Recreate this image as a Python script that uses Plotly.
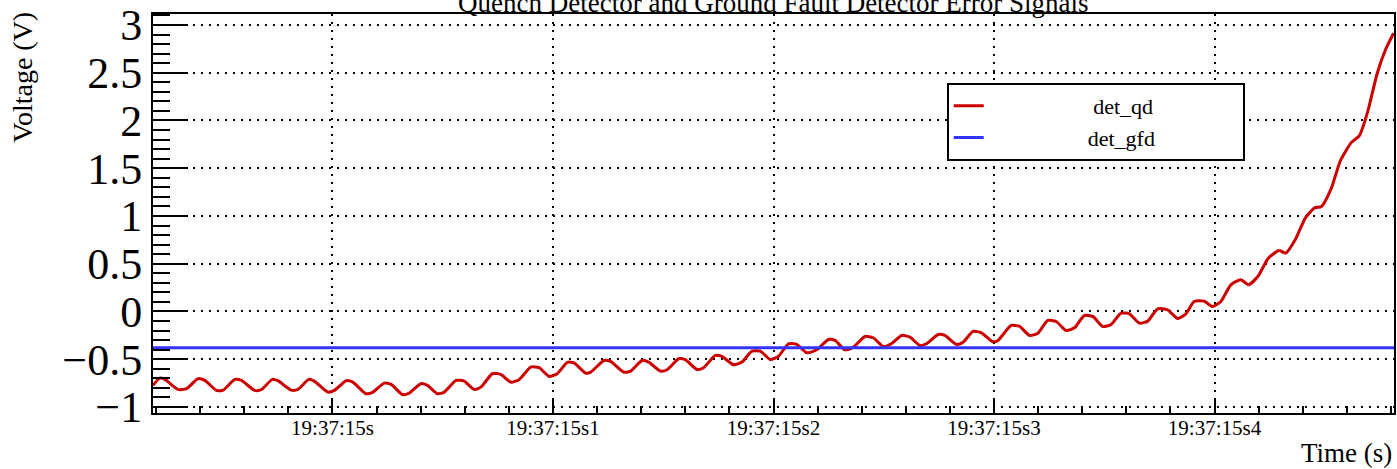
import plotly.graph_objects as go

# ---- data ----
qd_time = [
    -0.0814, -0.0783, -0.0760, -0.0701, -0.0662, -0.0610, -0.0579, -0.0526, -0.0496, -0.0443,
    -0.0413, -0.0353, -0.0323, -0.0273, -0.0248, -0.0187, -0.0157, -0.0107, -0.0081, -0.0021,
    0.0009, 0.0062, 0.0092, 0.0152, 0.0182, 0.0235, 0.0266, 0.0318, 0.0348, 0.0401,
    0.0431, 0.0476, 0.0507, 0.0560, 0.0597, 0.0643, 0.0673, 0.0725, 0.0763, 0.0809,
    0.0846, 0.0899, 0.0937, 0.0982, 0.1019, 0.1065, 0.1095, 0.1148, 0.1171, 0.1231,
    0.1261, 0.1321, 0.1352, 0.1404, 0.1434, 0.1487, 0.1517, 0.1570, 0.1600, 0.1653,
    0.1683, 0.1736, 0.1766, 0.1819, 0.1857, 0.1902, 0.1940, 0.1985, 0.2023, 0.2068,
    0.2105, 0.2151, 0.2196, 0.2249, 0.2279, 0.2324, 0.2362, 0.2415, 0.2452, 0.2498,
    0.2535, 0.2581, 0.2619, 0.2664, 0.2694, 0.2747, 0.2777, 0.2829, 0.2860, 0.2905,
    0.2943, 0.2995, 0.3018, 0.3078, 0.3116, 0.3161, 0.3199, 0.3244, 0.3282, 0.3327,
    0.3365, 0.3410, 0.3448, 0.3493, 0.3531, 0.3576, 0.3614, 0.3659, 0.3697, 0.3742,
    0.3787, 0.3833, 0.3870, 0.3908, 0.3953, 0.3991, 0.4029, 0.4074, 0.4119, 0.4155,
    0.4198, 0.4243, 0.4293, 0.4323, 0.4368, 0.4413, 0.4455, 0.4485, 0.4530, 0.4571,
    0.4621, 0.4657, 0.4696, 0.4738, 0.4775, 0.4812,
]
qd_volt = [
    -0.774, -0.698, -0.711, -0.816, -0.809, -0.704, -0.722, -0.826, -0.823, -0.711,
    -0.722, -0.826, -0.819, -0.711, -0.725, -0.823, -0.816, -0.711, -0.732, -0.844,
    -0.826, -0.725, -0.740, -0.861, -0.847, -0.750, -0.764, -0.871, -0.855, -0.756,
    -0.774, -0.861, -0.844, -0.722, -0.729, -0.816, -0.792, -0.652, -0.659, -0.740,
    -0.714, -0.583, -0.589, -0.680, -0.652, -0.533, -0.537, -0.645, -0.635, -0.513,
    -0.523, -0.635, -0.624, -0.513, -0.530, -0.624, -0.610, -0.495, -0.505, -0.607,
    -0.589, -0.460, -0.471, -0.558, -0.530, -0.415, -0.415, -0.502, -0.468, -0.338,
    -0.345, -0.432, -0.401, -0.293, -0.303, -0.401, -0.373, -0.262, -0.275, -0.366,
    -0.338, -0.251, -0.269, -0.356, -0.338, -0.241, -0.251, -0.345, -0.321, -0.209,
    -0.223, -0.317, -0.303, -0.146, -0.157, -0.251, -0.227, -0.094, -0.105, -0.199,
    -0.171, -0.042, -0.052, -0.157, -0.136, -0.018, -0.024, -0.122, -0.101, 0.028,
    0.018, -0.073, -0.024, 0.105, 0.108, 0.052, 0.105, 0.279, 0.332, 0.280,
    0.371, 0.556, 0.638, 0.612, 0.760, 0.983, 1.086, 1.100, 1.292, 1.579,
    1.771, 1.841, 2.103, 2.495, 2.738, 2.913,
]
gfd_time = [-0.0814, 0.4814]
gfd_volt = [-0.38, -0.38]

x_tickvals = [0.0, 0.1, 0.2, 0.3, 0.4]
x_ticktext = ["19:37:15s", "19:37:15s1", "19:37:15s2", "19:37:15s3", "19:37:15s4"]
x_range = [-0.0814, 0.4814]
y_range = [-1.063, 3.115]

title_text = "Quench Detector and Ground Fault Detector Error Signals"
x_title = "Time (s)"
y_title = "Voltage (V)"

FONT = "Liberation Serif, Times New Roman, serif"
NB = "\u00a0"

fig = go.Figure()
fig.add_trace(go.Scatter(x=qd_time, y=qd_volt, mode="lines", name=NB * 19 + "det_qd" + NB * 15,
                         line=dict(color="rgb(204,0,0)", width=3, shape="spline", smoothing=0.6)))
fig.add_trace(go.Scatter(x=gfd_time, y=gfd_volt, mode="lines", name=NB * 18 + "det_gfd" + NB * 15,
                         line=dict(color="rgb(51,51,255)", width=3)))

grid_dash = "2px,6px"
fig.update_xaxes(
    range=x_range, tickvals=x_tickvals, ticktext=x_ticktext,
    ticks="inside", ticklen=13, tickwidth=2, tickcolor="black",
    showline=True, mirror=True, linewidth=2, linecolor="black",
    showgrid=True, gridcolor="black", gridwidth=2, griddash=grid_dash,
    zeroline=False,
    tickfont=dict(family=FONT, size=21, color="black"),
    ticklabelstandoff=-5,
    minor=dict(tick0=0, dtick=0.02, ticks="inside", ticklen=7, tickwidth=2, tickcolor="black", showgrid=False),
)
fig.update_yaxes(
    range=y_range, tick0=0, dtick=0.5,
    ticks="inside", ticklen=35, tickwidth=2, tickcolor="black",
    showline=True, mirror=True, linewidth=2, linecolor="black",
    showgrid=True, gridcolor="black", gridwidth=2, griddash=grid_dash,
    zeroline=False,
    tickfont=dict(family=FONT, size=44, color="black"),
    minor=dict(tick0=0, dtick=0.1, ticks="inside", ticklen=17, tickwidth=2, tickcolor="black", showgrid=False),
)

fig.update_layout(
    width=1397, height=469,
    margin=dict(l=153, r=1, t=14, b=56),
    plot_bgcolor="white", paper_bgcolor="white",
    font=dict(family=FONT, color="black"),
    showlegend=True,
    legend=dict(
        x=0.6396, y=0.827, xanchor="left", yanchor="top",
        bgcolor="white", bordercolor="black", borderwidth=2,
        font=dict(family=FONT, size=22, color="black"),
        tracegroupgap=0,
    ),
    annotations=[
        dict(text=title_text, xref="paper", yref="paper", x=0.5, y=1, xanchor="center",
             yanchor="bottom", yshift=-6, showarrow=False, font=dict(family=FONT, size=27)),
        dict(text=y_title, xref="paper", yref="paper", x=(22 - 153) / 1243, y=1, xanchor="center",
             yanchor="top", yshift=4, textangle=-90, showarrow=False, font=dict(family=FONT, size=28)),
        dict(text=x_title, xref="paper", yref="paper", x=1, y=0, xanchor="right",
             yanchor="top", yshift=-23, showarrow=False, font=dict(family=FONT, size=27)),
    ],
)

fig.write_html("out.html", config={"displayModeBar": False},
               post_script="document.body.style.margin='0';")
